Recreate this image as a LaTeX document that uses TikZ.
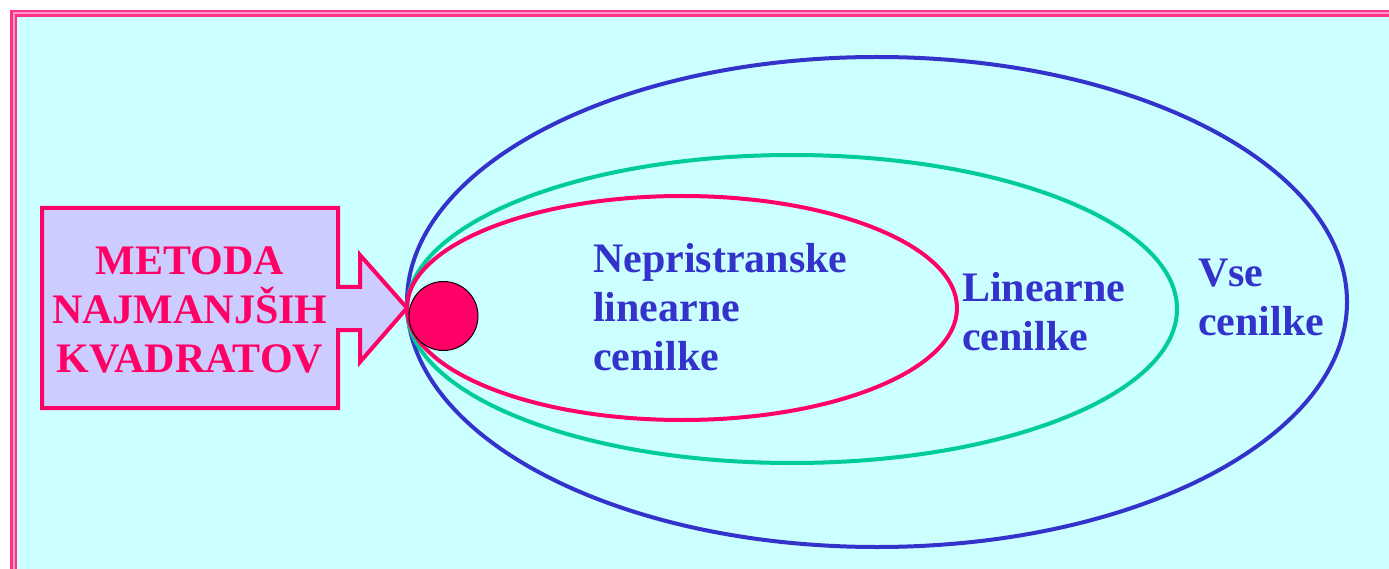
\documentclass[tikz,border=0pt]{standalone}
\usepackage{fontspec}
\setmainfont{Liberation Serif}
\definecolor{bgcyan}{HTML}{CCFFFF}
\definecolor{lilac}{HTML}{CCCCFF}
\definecolor{hotpink}{HTML}{FF0066}
\definecolor{framepink}{HTML}{FF3385}
\definecolor{framelight}{HTML}{FF99CC}
\definecolor{eblue}{HTML}{3333CC}
\definecolor{egreen}{HTML}{00CC99}
\tikzset{
  lbl/.style={inner sep=0pt, font=\fontsize{42}{49}\selectfont\bfseries},
  bluelbl/.style={lbl, text=eblue, align=left, anchor=base west},
  ell/.style={line width=4pt},
}
\begin{document}
\begin{tikzpicture}[x=1pt,y=-1pt]
\clip (0,0) rectangle (1389,569);
\fill[white] (0,0) rectangle (1389,569);
\fill[bgcyan] (17,17) rectangle (1420,600);
\draw[framepink, line width=7pt] (13.5,13.5) rectangle (1420,600);
\draw[framelight, line width=2pt] (13.5,13.5) rectangle (1420,600);
% box with arrow
\draw[hotpink, fill=lilac, line width=4pt, line join=miter]
  (42,208) -- (338,208) -- (338,287) -- (360,287) -- (360,255) -- (407,308)
  -- (360,362) -- (360,330) -- (338,330) -- (338,408) -- (42,408) -- cycle;
\node[lbl, text=hotpink, align=center, anchor=base] (method) at (190,372)
  {METODA\\NAJMANJŠIH\\KVADRATOV};
% ellipses
\draw[ell, eblue] (877,302) ellipse [x radius=470, y radius=245];
\draw[ell, egreen] (792,309) ellipse [x radius=385, y radius=154];
\draw[ell, hotpink] (682,308) ellipse [x radius=275, y radius=112];
\node[circle, fill=hotpink, draw=black, line width=1pt, minimum size=69pt, inner sep=0pt] (dot) at (443.5,316) {};
\node[bluelbl] (nlc) at (593,370) {Nepristranske\\linearne\\cenilke};
\node[bluelbl] (lc) at (962,350) {Linearne\\cenilke};
\node[bluelbl] (vc) at (1198,335) {Vse\\cenilke};
\end{tikzpicture}
\end{document}
